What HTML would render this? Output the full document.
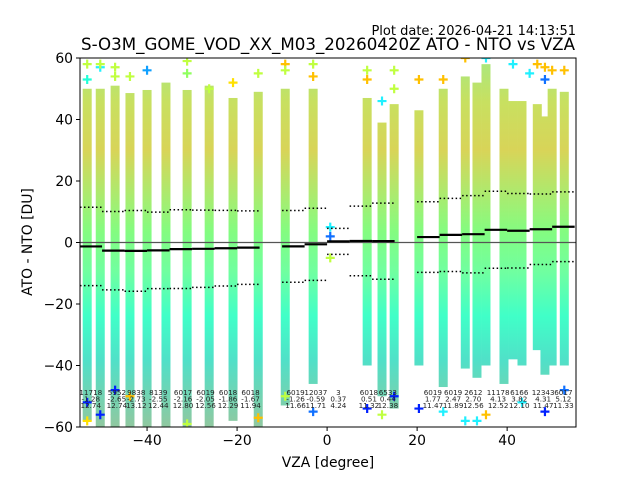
<!DOCTYPE html>
<html><head><meta charset="utf-8"><style>
html,body{margin:0;padding:0;background:#fff;}
svg{display:block;font-family:"DejaVu Sans","Liberation Sans",sans-serif;}
</style></head><body>
<svg id="chart" width="640" height="480" viewBox="0 0 640 480" xmlns="http://www.w3.org/2000/svg">
<defs>
<linearGradient id="colgrad" gradientUnits="userSpaceOnUse" x1="0" y1="58" x2="0" y2="427">
<stop offset="0" stop-color="#a8e880"/>
<stop offset="0.12" stop-color="#c8e060"/>
<stop offset="0.25" stop-color="#d8d458"/>
<stop offset="0.38" stop-color="#a8ec70"/>
<stop offset="0.47" stop-color="#84fc80"/>
<stop offset="0.58" stop-color="#70ffa0"/>
<stop offset="0.7" stop-color="#40ffc8"/>
<stop offset="0.82" stop-color="#50e0c8"/>
<stop offset="1" stop-color="#90c8a0"/>
</linearGradient>
<clipPath id="plotclip"><rect x="80" y="58" width="496" height="369"/></clipPath>
</defs>
<rect x="0" y="0" width="640" height="480" fill="#fff"/>
<g id="marks" clip-path="url(#plotclip)"></g>
<g id="axes"></g>
<text x="576" y="35" text-anchor="end" font-size="13">Plot date: 2026-04-21 14:13:51</text>
<text x="328" y="50" text-anchor="middle" font-size="16.5" textLength="494" lengthAdjust="spacingAndGlyphs">S-O3M_GOME_VOD_XX_M03_20260420Z ATO - NTO vs VZA</text>
<text x="328" y="467" text-anchor="middle" font-size="13.9">VZA [degree]</text>
<text transform="translate(32,242) rotate(-90)" text-anchor="middle" font-size="13.9">ATO - NTO [DU]</text>
</svg>
<script>
// data columns (VZA) with dense top/bottom values
const colVza = [-53.3,-50.4,-47.1,-43.8,-40,-35.8,-31.1,-26.2,-20.9,-15.3,-9.3,-3.1,8.9,12.2,14.9,20.4,25.8,30.7,33.3,35.3,39.3,41.3,43.3,46.7,48.4,50,52.7];
const colTop = [50,50,51,48.6,49.6,52,49.6,51,47,49,50,50,47,39,45,43,50,54,52,58,50,46,46,45,41,50,49];
const colBottom = [-58,-60,-60,-60,-60,-60,-60,-60,-58,-60,-53,-46,-40,-50,-54,-40,-47,-41,-44,-40,-46,-38,-40,-35,-43,-40,-40];
// outlier markers
const outVza = [-53.3,-53.3,-50.4,-50.4,-47.1,-47.1,-43.8,-40,-31.1,-31.1,-26.2,-20.9,-15.3,-9.3,-9.3,-3.1,-3.1,0.7,0.7,0.7,8.9,8.9,12.2,14.9,14.9,20.4,25.8,30.7,35.3,41.3,45,46.7,48.4,48.4,52.7,50,
 -53.3,-50.4,-31.1,-15.3,-9.3,-3.1,8.9,12.2,14.9,20.4,25.8,30.7,33.3,35.3,43.3,48.4,52.7,-53.3,-47.1,-43.8];
const outVal = [58,53,57,58,57,54,54,56,59,55,50,52,55,58,56,58,54,5,2,-5,56,53,46,56,50,53,53,60,60,58,55,58,57,53,56,56,
 -58,-56,-59,-57,-50,-55,-54,-56,-50,-54,-55,-58,-58,-56,-52,-55,-48,-52,-48,-50];
const outColor = ["#c0ff40","#20ffd8","#20f0ff","#c0ff40","#c0ff40","#c0ff40","#c0ff40","#10a0ff","#c0ff40","#90ff60","#c0ff40","#ffe000","#c0ff40","#ffc000","#c0ff40","#c0ff40","#ffc000","#20f0ff","#1070ff","#c0ff40","#c0ff40","#ffc000","#20f0ff","#c0ff40","#c0ff40","#ffc000","#ffc000","#ffc000","#20f0ff","#20f0ff","#20f0ff","#ffc000","#ffc000","#1070ff","#ffc000","#ffc000",
 "#ffe000","#0020ff","#c0ff40","#ffc000","#c0ff40","#1070ff","#0020ff","#c0ff40","#0020ff","#0020ff","#20f0ff","#20f0ff","#20f0ff","#ffc000","#20f0ff","#0020ff","#1070ff","#0020ff","#0020ff","#ffc000"];
// bin statistics
const binLo = [-55,-50,-45,-40,-35,-30,-25,-20,-10,-5,0,5,10,20,25,30,35,40,45,50];
const binCount = ["11718","5952","9838","8139","6017","6019","6018","6018","6019","12037","3","6018","6533","6019","6019","2612","11178","6166","12343","6017"];
const binMean = [-1.28,-2.65,-2.73,-2.55,-2.16,-2.05,-1.86,-1.67,-1.26,-0.59,0.37,0.51,0.44,1.77,2.47,2.70,4.13,3.82,4.31,5.12];
const binStd = [12.74,12.74,13.12,12.44,12.80,12.56,12.29,11.94,11.66,11.71,4.24,11.32,12.38,11.47,11.89,12.56,12.52,12.10,11.47,11.33];
const lblX = [-52.5,-46.7,-42.4,-37.5,-32,-27,-22,-17,-7,-2.5,2.5,9.3,13.5,23.5,28,32.5,38,42.7,48,52.5];
const xTicks = [-40,-20,0,20,40];
const yTicks = [-60,-40,-20,0,20,40,60];

const NS = "http://www.w3.org/2000/svg";
const X0=80,X1=576,Y0=58,Y1=427,XMIN=-54.9,XMAX=55.3,YMIN=-60,YMAX=60;
function sx(v){return X0+(v-XMIN)/(XMAX-XMIN)*(X1-X0);}
function sy(v){return Y1-(v-YMIN)/(YMAX-YMIN)*(Y1-Y0);}
function mk(tag,attrs,parent){const e=document.createElementNS(NS,tag);for(const k in attrs)e.setAttribute(k,attrs[k]);parent.appendChild(e);return e;}
const marks=document.getElementById('marks');
const axes=document.getElementById('axes');

colVza.forEach((v,i)=>{
  const r=mk('rect',{x:sx(v)-4.5,y:sy(colTop[i]),width:9,height:sy(colBottom[i])-sy(colTop[i]),fill:'url(#colgrad)'},marks);
  
  
});
outVza.forEach((v,i)=>{
  const cx=sx(v),cy=sy(outVal[i]);
  const p=mk('path',{d:`M${cx-4.5},${cy}H${cx+4.5}M${cx},${cy-4.5}V${cy+4.5}`,stroke:outColor[i],'stroke-width':2.2,fill:'none'},marks);
  
  
});
const zl=mk('line',{x1:X0,x2:X1,y1:sy(0),y2:sy(0),stroke:'#555','stroke-width':1.2},marks);


binLo.forEach((lo,i)=>{
  const a=sx(Math.max(lo,XMIN)),b=sx(Math.min(lo+5,XMAX));
  const m=mk('line',{x1:a,x2:b,y1:sy(binMean[i]),y2:sy(binMean[i]),stroke:'#000','stroke-width':2.2},marks);
  
  
  [binMean[i]+binStd[i],binMean[i]-binStd[i]].forEach(val=>{
    const d=mk('line',{x1:a,x2:b,y1:sy(val),y2:sy(val),stroke:'#000','stroke-width':1.5,'stroke-dasharray':'1.5,2.5'},marks);
    
    
  });
});
binCount.forEach((c,i)=>{
  const rows=[c,binMean[i].toFixed(2),binStd[i].toFixed(2)];
  rows.forEach((t,j)=>{
    const tx=mk('text',{x:sx(lblX[i]),y:395+j*6.5,'text-anchor':'middle','font-size':7.2,fill:'#222'},marks);
    tx.textContent=t;
    
    
  });
});
const fr=mk('rect',{x:X0,y:Y0,width:X1-X0,height:Y1-Y0,fill:'none',stroke:'#000','stroke-width':1},axes);


xTicks.forEach(v=>{
  const x=sx(v);
  const t=mk('line',{x1:x,x2:x,y1:Y1,y2:Y1+4,stroke:'#000'},axes);
  
  
  const l=mk('text',{x:x,y:Y1+18,'text-anchor':'middle','font-size':13.9},axes);
  l.textContent=v<0?'\u2212'+Math.abs(v):String(v);
  
  
});
yTicks.forEach(v=>{
  const y=sy(v);
  const t=mk('line',{x1:X0-4,x2:X0,y1:y,y2:y,stroke:'#000'},axes);
  
  
  const l=mk('text',{x:X0-7,y:y+5,'text-anchor':'end','font-size':13.9},axes);
  l.textContent=v<0?'\u2212'+Math.abs(v):String(v);
  
  
});
</script>
</body></html>
